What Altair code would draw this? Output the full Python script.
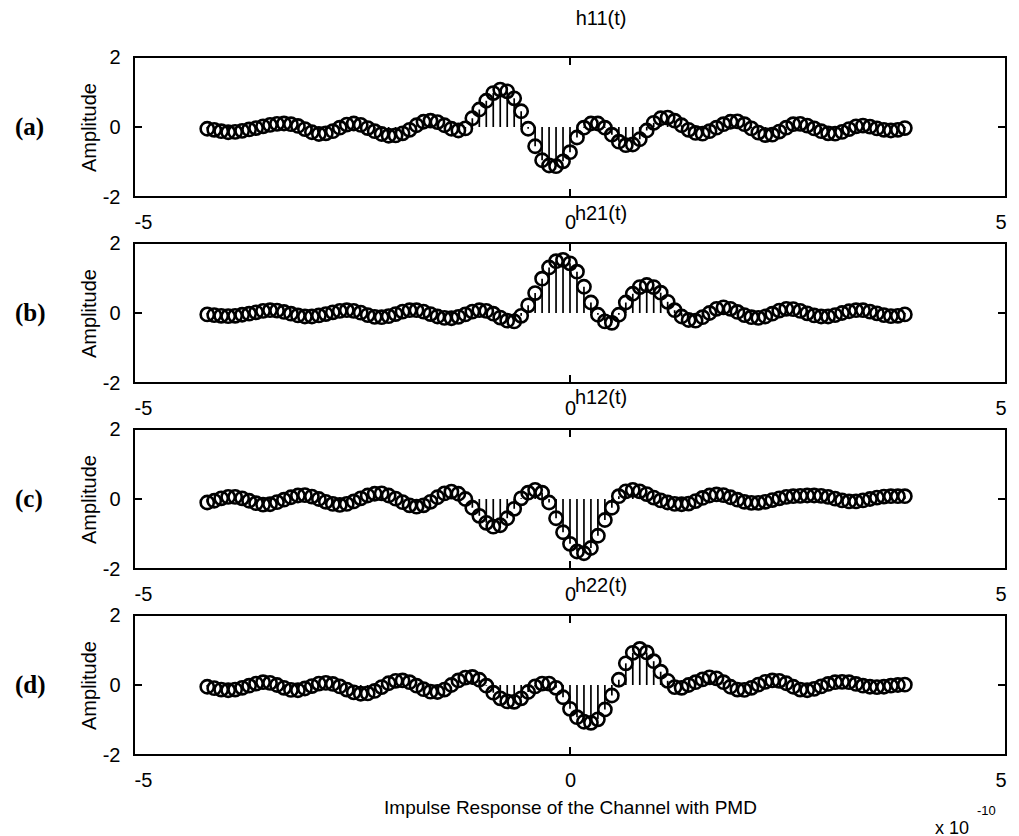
import altair as alt
import pandas as pd

# sample times (units of 1e-10 s)
t = [round(-4.16 + 0.08 * k, 2) for k in range(101)]

h11 = [-0.05, -0.08, -0.12, -0.15, -0.14, -0.11, -0.07, -0.03, 0.02, 0.06,
       0.09, 0.10, 0.08, 0.03, -0.06, -0.15, -0.20, -0.18, -0.12, -0.02,
       0.07, 0.10, 0.06, -0.03, -0.12, -0.20, -0.25, -0.24, -0.18, -0.08,
       0.05, 0.15, 0.18, 0.14, 0.05, -0.05, -0.10, -0.04, 0.25, 0.50,
       0.75, 0.97, 1.07, 1.02, 0.82, 0.45, -0.05, -0.55, -0.95, -1.10,
       -1.12, -0.98, -0.72, -0.30, -0.02, 0.10, 0.10, -0.02, -0.22, -0.42,
       -0.52, -0.50, -0.35, -0.10, 0.12, 0.25, 0.27, 0.18, 0.05, -0.08,
       -0.17, -0.19, -0.12, -0.02, 0.08, 0.15, 0.16, 0.08, -0.04, -0.16,
       -0.23, -0.22, -0.13, -0.02, 0.08, 0.09, 0.04, -0.04, -0.12, -0.18,
       -0.19, -0.14, -0.06, 0.02, 0.04, 0.01, -0.04, -0.08, -0.10, -0.08,
       -0.03]

h21 = [-0.04, -0.06, -0.08, -0.09, -0.08, -0.05, -0.02, 0.02, 0.06, 0.08,
       0.07, 0.03, -0.02, -0.07, -0.10, -0.10, -0.07, -0.03, 0.02, 0.06,
       0.08, 0.06, 0.01, -0.06, -0.11, -0.12, -0.09, -0.03, 0.04, 0.08,
       0.08, 0.04, -0.03, -0.10, -0.14, -0.15, -0.11, -0.04, 0.04, 0.08,
       0.06, -0.02, -0.13, -0.22, -0.24, -0.08, 0.22, 0.57, 0.98, 1.30,
       1.48, 1.52, 1.42, 1.18, 0.75, 0.30, -0.05, -0.24, -0.28, -0.05,
       0.30, 0.55, 0.74, 0.80, 0.74, 0.58, 0.32, 0.08, -0.10, -0.20,
       -0.22, -0.12, 0.00, 0.12, 0.16, 0.12, 0.03, -0.06, -0.12, -0.14,
       -0.10, -0.02, 0.07, 0.12, 0.11, 0.06, -0.01, -0.07, -0.10, -0.10,
       -0.06, 0.00, 0.05, 0.08, 0.08, 0.04, -0.01, -0.06, -0.09, -0.08,
       -0.04]

h12 = [-0.10, -0.05, 0.02, 0.06, 0.06, 0.02, -0.05, -0.12, -0.16, -0.15,
       -0.09, -0.02, 0.05, 0.10, 0.11, 0.07, 0.00, -0.08, -0.14, -0.17,
       -0.14, -0.07, 0.02, 0.10, 0.15, 0.16, 0.10, 0.01, -0.09, -0.18,
       -0.22, -0.18, -0.08, 0.05, 0.16, 0.21, 0.15, 0.00, -0.25, -0.48,
       -0.68, -0.79, -0.75, -0.55, -0.28, 0.02, 0.18, 0.26, 0.18, -0.10,
       -0.55, -0.95, -1.28, -1.50, -1.55, -1.40, -1.05, -0.60, -0.25, 0.08,
       0.22, 0.26, 0.22, 0.14, 0.04, -0.04, -0.10, -0.14, -0.15, -0.13,
       -0.06, 0.03, 0.10, 0.13, 0.11, 0.05, -0.02, -0.08, -0.11, -0.11,
       -0.08, -0.03, 0.02, 0.06, 0.08, 0.09, 0.10, 0.10, 0.09, 0.06,
       0.01, -0.04, -0.07, -0.07, -0.04, 0.00, 0.04, 0.07, 0.08, 0.08,
       0.08]

h22 = [-0.05, -0.09, -0.13, -0.15, -0.13, -0.08, -0.02, 0.04, 0.08, 0.06,
       0.00, -0.08, -0.14, -0.15, -0.10, -0.03, 0.04, 0.06, 0.03, -0.04,
       -0.13, -0.21, -0.25, -0.24, -0.17, -0.06, 0.05, 0.12, 0.13, 0.08,
       -0.02, -0.12, -0.19, -0.20, -0.13, 0.00, 0.13, 0.21, 0.23, 0.15,
       -0.02, -0.22, -0.38, -0.47, -0.48, -0.38, -0.20, -0.04, 0.04, 0.04,
       -0.08, -0.35, -0.68, -0.92, -1.05, -1.08, -0.98, -0.70, -0.30, 0.15,
       0.62, 0.92, 1.03, 0.93, 0.68, 0.38, 0.12, -0.06, -0.08, 0.00,
       0.08, 0.16, 0.22, 0.19, 0.08, -0.05, -0.13, -0.14, -0.08, 0.01,
       0.09, 0.13, 0.12, 0.05, -0.05, -0.13, -0.15, -0.11, -0.04, 0.03,
       0.08, 0.09, 0.08, 0.03, -0.02, -0.05, -0.06, -0.05, -0.02, 0.00,
       0.01]

titles = ["h11(t)", "h21(t)", "h12(t)", "h22(t)"]
panel_labels = ["(a)", "(b)", "(c)", "(d)"]
series = [h11, h21, h12, h22]
title_offsets = [-38, -29, -31, -29]

x_ticks = [-5, 0, 5]
y_ticks = [-2, 0, 2]

W, H = 872, 140
SANS = "Liberation Sans"


def panel(i):
    df = pd.DataFrame({"t": t, "v": series[i]})
    bottom = i == 3
    xs = alt.Scale(domain=[-5, 5], nice=False, zero=False)
    ys = alt.Scale(domain=[-2, 2], nice=False)
    xaxis = alt.Axis(values=x_ticks, labelExpr="toString(datum.value)",
                     title="Impulse Response of the Channel with PMD" if bottom else "",
                     titlePadding=8, grid=False, domain=False, ticks=False,
                     labelFont=SANS, labelFontSize=20, labelColor="black",
                     labelPadding=15, titleFont=SANS, titleFontSize=19,
                     titleFontWeight="normal", titleColor="black")
    yaxis = alt.Axis(values=y_ticks, labelExpr="toString(datum.value)",
                     title="Amplitude", titlePadding=3, grid=False, domain=False,
                     ticks=False, labelFont=SANS, labelFontSize=20, labelColor="black",
                     labelPadding=14, titleFont=SANS, titleFontSize=20,
                     titleFontWeight="normal", titleColor="black")
    x = alt.X("t:Q", scale=xs, axis=xaxis)
    y = alt.Y("v:Q", scale=ys, axis=yaxis)
    stems = alt.Chart(df).mark_rule(color="black", strokeWidth=1.7).encode(
        x=x, y=y, y2=alt.datum(0))
    pts = alt.Chart(df).mark_point(shape="circle", filled=False, size=175,
                                   strokeWidth=2.6, color="black", opacity=1).encode(x=x, y=y)

    xt = pd.DataFrame({"t": [0]})
    yt = pd.DataFrame({"v": [0]})
    tick_top = alt.Chart(xt).mark_rule(color="black", strokeWidth=2).encode(
        x=x, y=alt.value(0), y2=alt.value(8))
    tick_bot = alt.Chart(xt).mark_rule(color="black", strokeWidth=2).encode(
        x=x, y=alt.value(H), y2=alt.value(H - 8))
    tick_l = alt.Chart(yt).mark_rule(color="black", strokeWidth=2).encode(
        y=y, x=alt.value(0), x2=alt.value(8))
    tick_r = alt.Chart(yt).mark_rule(color="black", strokeWidth=2).encode(
        y=y, x=alt.value(W), x2=alt.value(W - 8))

    lab = alt.Chart(pd.DataFrame({"lab": [panel_labels[i]]})).mark_text(
        font="Liberation Serif", fontWeight="bold", fontSize=25, align="left",
        baseline="middle", color="black").encode(
        text="lab:N", x=alt.value(-119), y=alt.value(H / 2))
    ttl = alt.Chart(pd.DataFrame({"ttl": [titles[i]]})).mark_text(
        font=SANS, fontSize=20, align="center", baseline="middle", color="black").encode(
        text="ttl:N", x=alt.value(467), y=alt.value(title_offsets[i]))

    layers = [stems, pts, tick_top, tick_bot, tick_l, tick_r, lab, ttl]
    if bottom:
        e1 = alt.Chart(pd.DataFrame({"s": ["x 10"]})).mark_text(
            font=SANS, fontSize=18, align="left", baseline="middle", color="black").encode(
            text="s:N", x=alt.value(801), y=alt.value(214))
        e2 = alt.Chart(pd.DataFrame({"s": ["-10"]})).mark_text(
            font=SANS, fontSize=13, align="left", baseline="middle", color="black").encode(
            text="s:N", x=alt.value(843), y=alt.value(196))
        layers += [e1, e2]
    return alt.layer(*layers).properties(width=W, height=H)


chart = alt.vconcat(*[panel(i) for i in range(4)], spacing=46, bounds="flush").properties(
    padding={"left": 14, "top": 8, "right": 5, "bottom": 5},
    background="white"
).configure_view(
    stroke="black", strokeWidth=2
).configure_axis(
    grid=False, domain=False, ticks=False
)

chart.save("out.html", embed_options={"renderer": "svg", "actions": False})
